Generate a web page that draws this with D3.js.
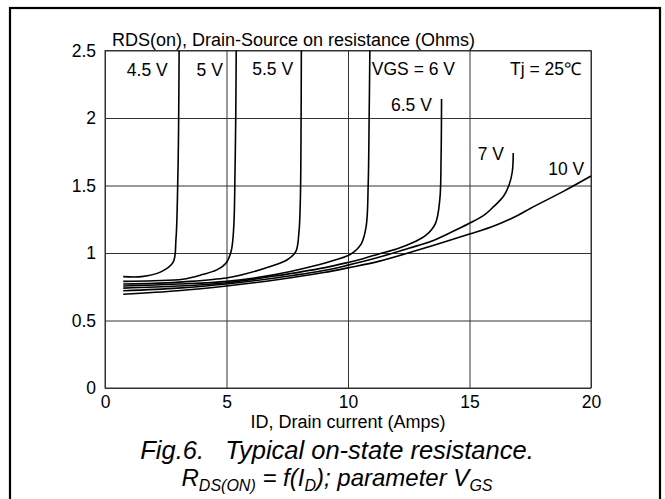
<!DOCTYPE html>
<html>
<head>
<meta charset="utf-8">
<script src="https://cdn.jsdelivr.net/npm/d3@7"></script>
<style>
  body { margin: 0; background: #fff; }
  svg { display: block; font-family: "Liberation Sans", Arial, sans-serif; }
  .tick text { font-size: 17.5px; fill: #000; }
  .grid line { stroke: #333; stroke-width: 1; }
</style>
</head>
<body>
<div id="chart"></div>
<script>
/* CONSTANTS */
const width = 665,
  height = 499,
  margin = { top: 50.5, left: 105, right: 74, bottom: 111 };

// tick values
const xTicks = [0, 5, 10, 15, 20];
const yTicks = [0, 0.5, 1, 1.5, 2, 2.5];

// curves: [ID (A), RDS(on) (Ohm)]
const vgs45 = [[0.75, 0.825], [1.5, 0.825], [2.3, 0.86], [2.8, 0.93], [2.92, 1.1], [2.98, 1.4], [3.02, 1.8], [3.04, 2.2], [3.05, 2.5]];
const vgs5 = [[0.75, 0.79], [2, 0.795], [3.2, 0.806], [4.0, 0.84], [4.6, 0.875], [5.0, 0.93], [5.2, 1.02], [5.3, 1.2], [5.35, 1.6], [5.38, 2.0], [5.4, 2.5]];
const vgs55 = [[0.75, 0.77], [2, 0.775], [3.5, 0.79], [5, 0.815], [5.56, 0.835], [6.8, 0.9], [7.5, 0.95], [7.85, 1.01], [7.98, 1.15], [8.04, 1.4], [8.07, 2.0], [8.08, 2.5]];
const vgs6 = [[0.75, 0.755], [3, 0.77], [5, 0.79], [7, 0.84], [8.5, 0.9], [9.5, 0.95], [10.1, 0.99], [10.55, 1.07], [10.75, 1.2], [10.83, 1.5], [10.87, 2.0], [10.9, 2.5]];
const vgs65 = [[0.75, 0.74], [3, 0.755], [5, 0.78], [7, 0.83], [9, 0.89], [10, 0.93], [10.65, 0.96], [11.3, 0.995], [12, 1.03], [12.7, 1.08], [13.2, 1.13], [13.6, 1.22], [13.78, 1.4], [13.83, 1.7], [13.85, 2.14]];
const vgs7 = [[0.75, 0.72], [3, 0.74], [5, 0.77], [7, 0.815], [9, 0.87], [10, 0.91], [11.3, 0.97], [12.5, 1.035], [13.4, 1.085], [14.2, 1.15], [15, 1.22], [15.6, 1.28], [16, 1.345], [16.4, 1.42], [16.62, 1.5], [16.76, 1.6], [16.8, 1.74]];
const vgs10 = [[0.75, 0.695], [3, 0.72], [5, 0.755], [7, 0.8], [9, 0.855], [10, 0.89], [11.3, 0.94], [13.4, 1.05], [15, 1.14], [16, 1.2], [17, 1.28], [17.5, 1.33], [18.9, 1.46], [20, 1.57]];

const curves = [vgs45, vgs5, vgs55, vgs6, vgs65, vgs7, vgs10];

// in-plot labels, anchored in data units
const labels = [
  { text: "4.5 V", id: 0.9, r: 2.31 },
  { text: "5 V", id: 3.77, r: 2.31 },
  { text: "5.5 V", id: 6.06, r: 2.32 },
  { text: "VGS = 6 V", id: 10.98, r: 2.32 },
  { text: "Tj = 25\u2103", id: 16.67, r: 2.32 },
  { text: "6.5 V", id: 11.77, r: 2.05 },
  { text: "7 V", id: 15.34, r: 1.69 },
  { text: "10 V", id: 18.24, r: 1.575 }
];

/* SCALES */
const xScale = d3.scaleLinear().domain([0, 20]).range([margin.left, width - margin.right]);
const yScale = d3.scaleLinear().domain([0, 2.5]).range([height - margin.bottom, margin.top]);

const svg = d3.select("#chart").append("svg")
  .attr("width", width)
  .attr("height", height);

// outer frame of the figure
svg.append("rect")
  .attr("x", 10).attr("y", 8)
  .attr("width", 650).attr("height", 510)
  .attr("fill", "none")
  .attr("stroke", "#000")
  .attr("stroke-width", 2.2);

const plotW = xScale.range()[1] - xScale.range()[0];
const plotH = yScale.range()[0] - yScale.range()[1];

// y axis + horizontal grid
svg.append("g")
  .attr("class", "grid")
  .attr("transform", `translate(${margin.left},0)`)
  .call(d3.axisLeft(yScale).tickValues(yTicks).tickFormat(d3.format("")).tickSizeInner(-plotW).tickSizeOuter(0).tickPadding(9))
  .call(g => g.select(".domain").remove());

// x axis + vertical grid
svg.append("g")
  .attr("class", "grid")
  .attr("transform", `translate(0,${height - margin.bottom})`)
  .call(d3.axisBottom(xScale).tickValues(xTicks).tickSizeInner(-plotH).tickSizeOuter(0).tickPadding(8))
  .call(g => g.select(".domain").remove());

// plot frame
svg.append("rect")
  .attr("x", margin.left).attr("y", margin.top)
  .attr("width", plotW).attr("height", plotH)
  .attr("fill", "none")
  .attr("stroke", "#333")
  .attr("stroke-width", 1);

// axis titles
svg.append("text")
  .attr("x", margin.left + 7).attr("y", margin.top - 5)
  .attr("font-size", 18)
  .text("RDS(on), Drain-Source on resistance (Ohms)");

svg.append("text")
  .attr("x", xScale(10)).attr("y", height - margin.bottom + 40)
  .attr("text-anchor", "middle")
  .attr("font-size", 18)
  .text("ID, Drain current (Amps)");

// curves
svg.append("clipPath").attr("id", "clip")
  .append("rect")
  .attr("x", margin.left).attr("y", margin.top)
  .attr("width", plotW).attr("height", plotH);

const line = d3.line()
  .x(d => xScale(d[0]))
  .y(d => yScale(d[1]))
  .curve(d3.curveCatmullRom.alpha(0.5));

svg.append("g")
  .attr("clip-path", "url(#clip)")
  .selectAll("path")
  .data(curves)
  .join("path")
  .attr("d", line)
  .attr("fill", "none")
  .attr("stroke", "#000")
  .attr("stroke-width", 1.6);

// curve labels
svg.selectAll(".lbl")
  .data(labels)
  .join("text")
  .attr("class", "lbl")
  .attr("x", d => xScale(d.id))
  .attr("y", d => yScale(d.r))
  .attr("font-size", 17.5)
  .text(d => d.text);

// caption
const capX = 337;
const cap = svg.append("g")
  .attr("font-style", "italic")
  .attr("text-anchor", "middle");

cap.append("text")
  .attr("x", capX).attr("y", 459)
  .attr("font-size", 25.5)
  .attr("xml:space", "preserve")
  .text("Fig.6.   Typical on-state resistance.");

const l2 = cap.append("text")
  .attr("x", capX).attr("y", 486)
  .attr("font-size", 24);
const sub = (s) => l2.append("tspan").attr("font-size", 16).attr("dy", 5).text(s);
const up = (s) => l2.append("tspan").attr("dy", -5).text(s);
l2.append("tspan").text("R");
sub("DS(ON)");
up(" = f(I");
sub("D");
up("); parameter V");
sub("GS");
</script>
</body>
</html>
